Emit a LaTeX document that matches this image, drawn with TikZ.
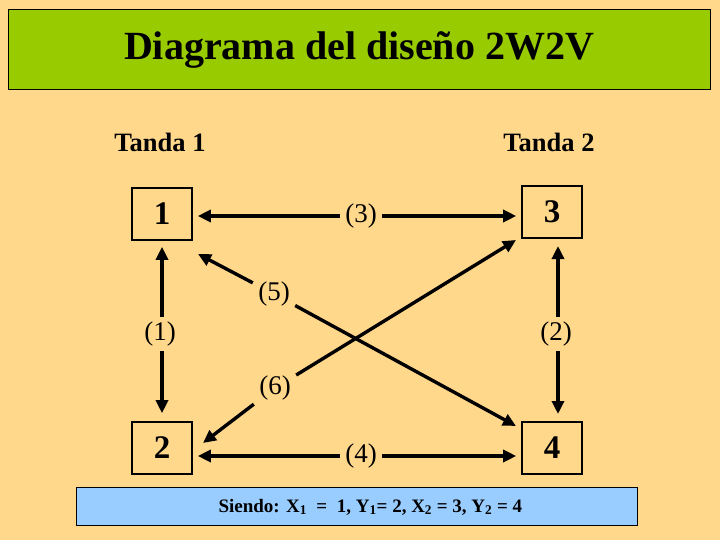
\documentclass[tikz,border=0pt]{standalone}
\usepackage{fontspec}
\setmainfont{Liberation Serif}
\usetikzlibrary{arrows.meta}
\definecolor{bgc}{RGB}{255,216,140}
\definecolor{titlec}{RGB}{153,204,0}
\definecolor{notec}{RGB}{153,204,255}
\tikzset{
  box/.style={draw=black, line width=1.6pt, minimum width=60pt, minimum height=52pt, inner sep=0pt, font=\fontsize{33}{35}\selectfont\bfseries},
  lab/.style={minimum width=42pt, minimum height=34pt, inner sep=0pt, font=\fontsize{27}{29}\selectfont},
  arr/.style={line width=3.4pt, -{Triangle[length=13pt,width=12pt]}},
  tanda/.style={font=\fontsize{26.5}{28}\selectfont\bfseries}
}
\begin{document}
\begin{tikzpicture}[x=1pt,y=-1pt]
\fill[bgc] (0,0) rectangle (720,540);
\useasboundingbox (0,0) rectangle (720,540);
\node[draw=black, line width=1pt, fill=titlec, minimum width=702pt, minimum height=80pt, inner sep=0pt, font=\fontsize{40}{44}\selectfont\bfseries] (title) at (359,50) {Diagrama del diseño 2W2V};
\node[tanda] (t1) at (160,142) {Tanda 1};
\node[tanda] (t2) at (549,142) {Tanda 2};
\node[box] (b1) at (162,214) {1};
\node[box] (b3) at (552,212) {3};
\node[box] (b2) at (162,448) {2};
\node[box] (b4) at (552,448) {4};
\node[lab] (l3) at (361,216) {(3)};
\node[lab] (l4) at (361,456) {(4)};
\node[lab] (l1) at (160,334) {(1)};
\node[lab] (l2) at (556,334) {(2)};
\node[lab] (l5) at (274,294) {(5)};
\node[lab] (l6) at (275,388) {(6)};
\coordinate (c5a) at (198,254);
\coordinate (c5b) at (516,426);
\coordinate (c6a) at (203,443);
\coordinate (c6b) at (516,240);
\draw[arr, shorten >=5pt] (l3) -- (l3 -| b1.east);
\draw[arr, shorten >=5pt] (l3) -- (l3 -| b3.west);
\draw[arr, shorten >=5pt] (l4) -- (l4 -| b2.east);
\draw[arr, shorten >=5pt] (l4) -- (l4 -| b4.west);
\draw[arr, shorten >=6pt] (l1.north -| b1) -- (b1.south);
\draw[arr, shorten >=8pt] (l1.south -| b2) -- (b2.north);
\draw[arr, shorten >=6pt] (l2.north -| 558,0) -- (558,240);
\draw[arr, shorten >=8pt] (l2.south -| 558,0) -- (558,422);
\draw[arr] (l5) -- (c5a);
\draw[arr] (l5) -- (c5b);
\draw[arr] (l6) -- (c6a);
\draw[arr] (l6) -- (c6b);
\node[draw=black, line width=1pt, fill=notec, minimum width=561pt, minimum height=38pt, inner sep=0pt] (note) at (356.5,506.5) {};
\node[anchor=west, font=\fontsize{19}{21}\selectfont\bfseries] (notetext) at (215,507) {Siendo: X$_{\mathbf{1}}$ \ = \ 1, Y$_{\mathbf{1}}$= 2, X$_{\mathbf{2}}$ = 3, Y$_{\mathbf{2}}$ = 4};
\end{tikzpicture}
\end{document}
